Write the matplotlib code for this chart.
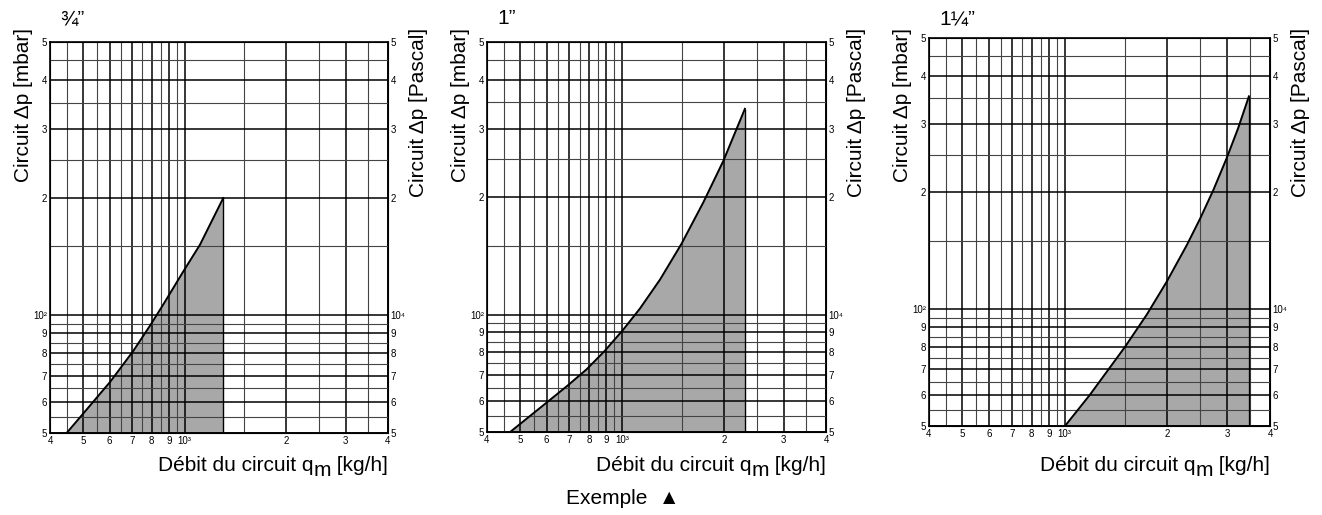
import matplotlib
matplotlib.use("Agg")
import matplotlib.pyplot as plt
from matplotlib.ticker import FixedLocator, FixedFormatter, NullFormatter

plt.rcParams["font.family"] = ["Liberation Sans", "DejaVu Sans"]

W, H = 1322, 515

# pipe size of each panel
sizes = ["¾”", "1”", "1¼”"]

# upper limit curve: flow qm [kg/h] and circuit dp [mbar]
q_34 = [448, 501, 602, 705, 790, 865, 992, 1111, 1302]
dp_34 = [50, 56, 67.5, 81, 94, 106.5, 129.5, 151.5, 199.5]

q_1 = [468, 600, 695, 787, 891, 1009, 1130, 1295, 1501, 1738, 1991, 2306]
dp_1 = [50, 59.5, 66.0, 72.4, 80.8, 91.5, 103.6, 122.9, 152.2, 193.9, 247.6, 337]

q_114 = [1002, 1186, 1503, 1740, 1991, 2279, 2493, 2727, 2985, 3228, 3469]
dp_114 = [50, 60.2, 80.0, 96.8, 117.7, 146.1, 170.9, 202.6, 245.0, 293.3, 353.7]

# log paper grid + tick labels
x_major = [400, 500, 600, 700, 800, 900, 1000, 2000, 3000, 4000]
x_labels = ["4", "5", "6", "7", "8", "9", "10³", "2", "3", "4"]
x_minor = [450, 550, 650, 750, 850, 950, 1500, 2500, 3500]
y_major = [50, 60, 70, 80, 90, 100, 200, 300, 400, 500]
y_labels_mbar = ["5", "6", "7", "8", "9", "10²", "2", "3", "4", "5"]
y_labels_pa = ["5", "6", "7", "8", "9", "10⁴", "2", "3", "4", "5"]
y_minor = [55, 65, 75, 85, 95, 150, 250, 350, 450]

curves = [(q_34, dp_34), (q_1, dp_1), (q_114, dp_114)]
# panel boxes in pixels: left, bottom, right, top
boxes = [(50, 433, 388, 42), (487, 432, 826, 42), (929, 426, 1270, 38)]

fig = plt.figure(figsize=(W / 100, H / 100), dpi=100)

for (q, dp), (l, b, r, t), size in zip(curves, boxes, sizes):
    ax = fig.add_axes([l / W, 1 - b / H, (r - l) / W, (b - t) / H])
    ax.set_xscale("log")
    ax.set_yscale("log")
    ax.set_xlim(400, 4000)
    ax.set_ylim(50, 500)

    ax.xaxis.set_major_locator(FixedLocator(x_major))
    ax.xaxis.set_major_formatter(FixedFormatter(x_labels))
    ax.xaxis.set_minor_locator(FixedLocator(x_minor))
    ax.xaxis.set_minor_formatter(NullFormatter())
    ax.yaxis.set_major_locator(FixedLocator(y_major))
    ax.yaxis.set_major_formatter(FixedFormatter(y_labels_mbar))
    ax.yaxis.set_minor_locator(FixedLocator(y_minor))
    ax.yaxis.set_minor_formatter(NullFormatter())
    ax.tick_params(which="both", length=0, labelsize=7, pad=2)

    ax.set_axisbelow(False)
    ax.grid(which="major", color="black", lw=1.1)
    ax.grid(which="minor", color="#444444", lw=0.8)
    for sp in ax.spines.values():
        sp.set_linewidth(1.2)

    ax.fill_between(q, dp, 50, facecolor="#a8a8a8", edgecolor="none", zorder=1)
    ax.plot(q, dp, color="black", lw=1.4, zorder=4)
    ax.vlines(q[-1], 50, dp[-1], color="black", lw=1.0, zorder=4)

    # right hand Pascal scale
    ax2 = ax.twinx()
    ax2.set_yscale("log")
    ax2.set_ylim(50, 500)
    ax2.yaxis.set_major_locator(FixedLocator(y_major))
    ax2.yaxis.set_major_formatter(FixedFormatter(y_labels_pa))
    ax2.yaxis.set_minor_locator(FixedLocator(y_minor))
    ax2.yaxis.set_minor_formatter(NullFormatter())
    ax2.tick_params(which="both", length=0, labelsize=7, pad=2)

    fig.text((l + 10) / W, 1 - 19 / H, size, fontsize=15, ha="left", va="center")
    fig.text((l - 26) / W, 1 - 28 / H, "Circuit Δp [mbar]", rotation=90,
             fontsize=15, ha="center", va="top")
    fig.text((r + 31) / W, 1 - 28 / H, "Circuit Δp [Pascal]", rotation=90,
             fontsize=15, ha="center", va="top")

    # x label, with the lowered "m" of q_m
    t3 = fig.text(r / W, 1 - 471 / H, " [kg/h]", fontsize=15, ha="right", va="baseline")
    t2 = ax.annotate("m", xy=(0, 0), xycoords=t3, xytext=(0, -3.5),
                     textcoords="offset points", fontsize=15, ha="right", va="bottom")
    ax.annotate("Débit du circuit q", xy=(0, 0), xycoords=t2, xytext=(0, 3.5),
                textcoords="offset points", fontsize=15, ha="right", va="bottom")

fig.text(623 / W, 1 - 498 / H, "Exemple  ▲", fontsize=15, ha="center", va="center")

fig.savefig("out.png", dpi=100)
